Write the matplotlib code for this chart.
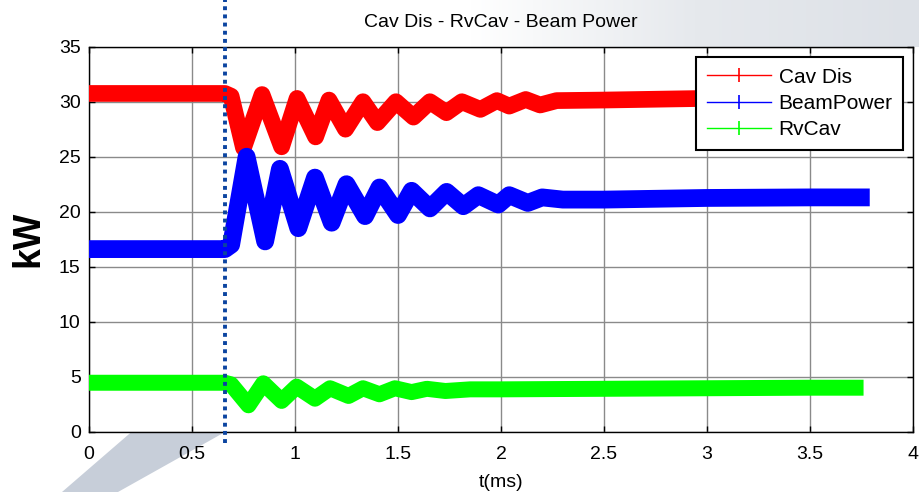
import numpy as np
import matplotlib
matplotlib.use("Agg")
import matplotlib.pyplot as plt
from matplotlib.lines import Line2D
from matplotlib.patches import Polygon
from matplotlib.colors import LinearSegmentedColormap

plt.rcParams['font.family'] = ['Liberation Sans', 'DejaVu Sans']

# ---------------- data ----------------
t_cav = [0.0, 0.66, 0.69, 0.75, 0.84, 0.935, 1.01, 1.10, 1.165, 1.245, 1.33, 1.40,
         1.49, 1.575, 1.655, 1.735, 1.81, 1.90, 1.98, 2.04, 2.12, 2.19, 2.27, 2.5,
         3.0, 3.4, 3.78]
cav_dis = [30.75, 30.75, 30.5, 25.8, 30.65, 25.9, 30.3, 26.8, 30.15, 27.5, 30.0, 28.1,
           30.0, 28.6, 30.0, 29.0, 30.0, 29.3, 30.1, 29.6, 30.2, 29.7, 30.1, 30.15,
           30.3, 30.45, 30.55]

t_beam = [0.0, 0.66, 0.69, 0.765, 0.855, 0.927, 1.016, 1.097, 1.178, 1.25, 1.34, 1.41,
          1.50, 1.566, 1.655, 1.736, 1.817, 1.89, 1.987, 2.04, 2.13, 2.20, 2.3, 2.5,
          3.0, 3.5, 3.79]
beam_power = [16.6, 16.6, 17.0, 25.0, 17.3, 23.9, 18.5, 23.1, 19.0, 22.5, 19.6, 22.2,
              19.7, 21.9, 20.3, 21.8, 20.5, 21.5, 20.65, 21.5, 20.8, 21.3, 21.1, 21.1,
              21.25, 21.3, 21.3]

t_rv = [0.0, 0.66, 0.69, 0.774, 0.846, 0.935, 1.008, 1.097, 1.17, 1.26, 1.33, 1.41,
        1.485, 1.566, 1.64, 1.73, 1.85, 2.0, 2.5, 3.0, 3.5, 3.76]
rv_cav = [4.45, 4.45, 4.3, 2.4, 4.4, 2.8, 4.1, 3.0, 3.95, 3.25, 3.95, 3.4,
          3.95, 3.6, 3.9, 3.7, 3.85, 3.85, 3.9, 3.95, 4.0, 4.0]

event_t = 0.66

series_names = ["Cav Dis", "BeamPower", "RvCav"]
series_colors = ["#ff0000", "#0000ff", "#00ff00"]
series_widths = [12.0, 12.8, 11.5]   # band thickness in points

xticks = [0, 0.5, 1, 1.5, 2, 2.5, 3, 3.5, 4]
xtick_labels = ["0", "0.5", "1", "1.5", "2", "2.5", "3", "3.5", "4"]
yticks = [0, 5, 10, 15, 20, 25, 30, 35]

# ---------------- figure ----------------
W, H = 919, 492
fig = plt.figure(figsize=(W / 100, H / 100), dpi=100)

# background watermark
bg = fig.add_axes([0, 0, 1, 1], zorder=-5)
bg.set_xlim(0, W)
bg.set_ylim(H, 0)
bg.axis('off')
grad = np.linspace(0, 1, 200)[None, :]
cmap_bg = LinearSegmentedColormap.from_list("bg", ["#ffffff", "#e6e9ed", "#dde1e7"])
bg.imshow(grad, extent=[470, W, 47, 0], cmap=cmap_bg, aspect='auto', zorder=0)
bg.add_patch(Polygon([(62, H), (118, H), (300, 390), (180, 390)],
                     closed=True, facecolor="#c7ced9", edgecolor='none', zorder=1))

ax = fig.add_axes([89 / W, 60.3 / H, 824 / W, 385 / H])
ax.set_facecolor('white')

ts = [t_cav, t_beam, t_rv]
vs = [cav_dis, beam_power, rv_cav]
for t, v, c, w in zip(ts, vs, series_colors, series_widths):
    ax.plot(t, v, color=c, lw=w, solid_joinstyle='round', solid_capstyle='butt',
            zorder=3)

ax.plot([event_t, event_t], [-1.05, 39.3], color="#0b44a0", lw=2.8,
        linestyle=(0, (1, 1.1)), clip_on=False, zorder=6)

ax.set_xlim(0, 4)
ax.set_ylim(0, 35)
ax.set_xticks(xticks)
ax.set_xticklabels(xtick_labels)
ax.set_yticks(yticks)
ax.tick_params(direction='in', length=4, width=1, top=True, right=True,
               labelsize=14, colors='black')
ax.tick_params(axis='x', pad=10)
ax.tick_params(axis='y', pad=6)
ax.grid(True, color='#8a8a8a', lw=1)
ax.set_axisbelow(True)
for s in ax.spines.values():
    s.set_color('black')
    s.set_linewidth(1)

ax.set_title("Cav Dis - RvCav - Beam Power", fontsize=14, pad=14)
ax.set_xlabel("t(ms)", fontsize=14, labelpad=8)
ax.set_ylabel("kW", fontsize=27, fontweight='bold', labelpad=9)

handles = [Line2D([], [], color=c, lw=1, marker='|', markersize=10, markeredgewidth=1.2)
           for c in series_colors]
leg = ax.legend(handles, series_names, loc='upper right', bbox_to_anchor=(0.988, 0.973),
                fontsize=15, frameon=True, fancybox=False, framealpha=1,
                edgecolor='black', handlelength=3.1, handletextpad=0.35,
                labelspacing=0.35, borderpad=0.5, borderaxespad=0)
leg.get_frame().set_linewidth(1.5)
leg.set_zorder(10)

fig.savefig("out.png", dpi=100)
